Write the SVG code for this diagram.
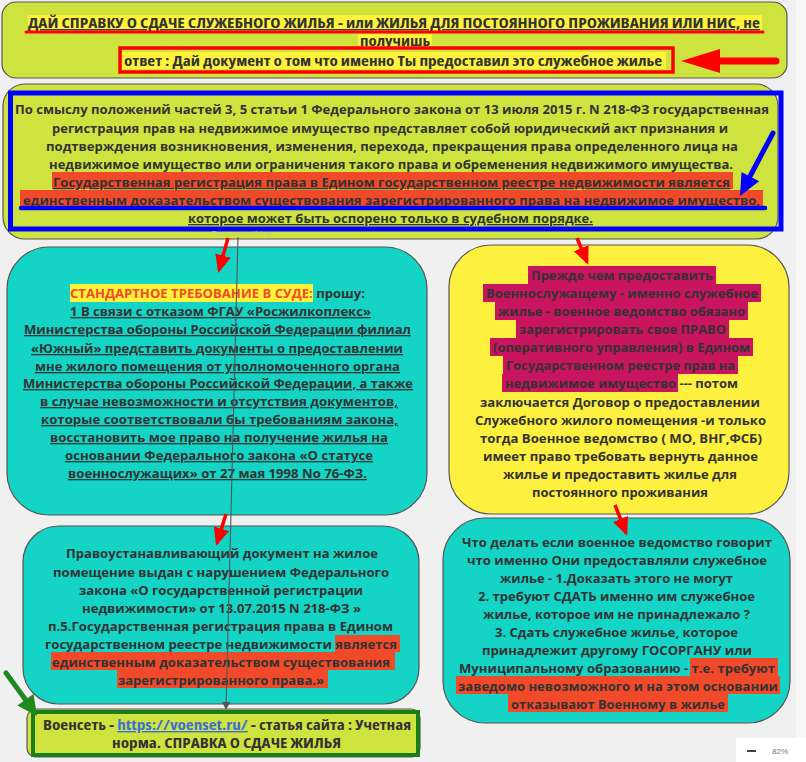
<svg xmlns="http://www.w3.org/2000/svg" width="806" height="762" viewBox="0 0 806 762">
<defs>
<style>
.t{font-family:"Open Sans","DejaVu Sans",sans-serif;font-weight:700;font-size:13.2px;fill:#333;}
.c{font-stretch:condensed;font-size:14px;}
.u{text-decoration:underline;}
.box{stroke:#555;stroke-width:1.2;}
.lime{fill:#cfe33f;}
.teal{fill:#14d4c5;}
.yel{fill:#fdf03e;}
.hy{fill:#fff23a;}
.hr{fill:#f04a2a;}
.hm{fill:#c9145f;}
.ra{stroke:#ff0000;stroke-width:3.5;fill:none;}
</style>
<marker id="rh" markerUnits="userSpaceOnUse" markerWidth="20" markerHeight="16" refX="15" refY="8" orient="auto">
<path d="M0,0 L18,8 L0,16 z" fill="#ff0000"/>
</marker>
<marker id="gh" markerUnits="userSpaceOnUse" markerWidth="8" markerHeight="8" refX="7" refY="4" orient="auto">
<path d="M0,0 L8,4 L0,8 z" fill="#555"/>
</marker>
</defs>
<rect width="806" height="762" fill="#f0f0f0"/>
<rect x="796" y="0" width="10" height="762" fill="#f8f8f8"/>

<g id="node-top">
<rect class="box lime" x="2" y="2" width="785" height="76" rx="14"/>
<rect class="hy" x="28" y="15" width="734" height="17"/>
<rect class="hy" x="358" y="34" width="74" height="16"/>
<rect class="hy" x="122" y="52" width="544" height="17"/>
<text class="t c u" x="28" y="28" textLength="732" lengthAdjust="spacingAndGlyphs">ДАЙ СПРАВКУ О СДАЧЕ СЛУЖЕБНОГО ЖИЛЬЯ - или ЖИЛЬЯ ДЛЯ ПОСТОЯННОГО ПРОЖИВАНИЯ ИЛИ НИС, не</text>
<line x1="26" y1="32" x2="763" y2="32" stroke="#ff0000" stroke-width="3" stroke-linecap="round"/>
<text class="t c u" x="360" y="46" textLength="70" lengthAdjust="spacingAndGlyphs">получишь</text>
<rect x="120" y="48" width="553" height="24" fill="none" stroke="#ff0000" stroke-width="3.5"/>
<text class="t c" x="124" y="66" textLength="538" lengthAdjust="spacingAndGlyphs">ответ : Дай документ о том что именно Ты предоставил это служебное жилье</text>
</g>

<g id="node-law">
<rect class="box lime" x="3" y="84" width="775" height="155" rx="22"/>
<rect class="hr" x="52" y="172" width="681" height="17"/>
<rect class="hr" x="20" y="190" width="743" height="16"/>
<text class="t" x="15" y="114" textLength="754" lengthAdjust="spacingAndGlyphs">По смыслу положений частей 3, 5 статьи 1 Федерального закона от 13 июля 2015 г. N 218-ФЗ государственная</text>
<text class="t" x="52" y="133" textLength="676" lengthAdjust="spacingAndGlyphs">регистрация прав на недвижимое имущество представляет собой юридический акт признания и</text>
<text class="t" x="46" y="151" textLength="692" lengthAdjust="spacingAndGlyphs">подтверждения возникновения, изменения, перехода, прекращения права определенного лица на</text>
<text class="t" x="49" y="169" textLength="684" lengthAdjust="spacingAndGlyphs">недвижимое имущество или ограничения такого права и обременения недвижимого имущества.</text>
<text class="t u" x="53" y="187" textLength="677" lengthAdjust="spacingAndGlyphs">Государственная регистрация права в Едином государственном реестре недвижимости является</text>
<text class="t u" x="23" y="205" textLength="737" lengthAdjust="spacingAndGlyphs">единственным доказательством существования зарегистрированного права на недвижимое имущество,</text>
<text class="t u" x="188" y="223" textLength="405" lengthAdjust="spacingAndGlyphs">которое может быть оспорено только в судебном порядке.</text>
<rect x="10.5" y="93" width="770.5" height="136" fill="none" stroke="#0000ff" stroke-width="5"/>
<line x1="21" y1="208" x2="765" y2="208" stroke="#0000ff" stroke-width="4.5" stroke-linecap="round"/>
<text x="212" y="236" font-family="Open Sans, sans-serif" font-size="8" fill="#c2d170">Type something</text>
</g>

<g id="node-court">
<rect class="box teal" x="7" y="247" width="420" height="268" rx="42"/>
<rect class="hy" x="70" y="284" width="243" height="18"/>
<text class="t" x="70" y="298" textLength="295" lengthAdjust="spacingAndGlyphs"><tspan fill="#f04a2a">СТАНДАРТНОЕ ТРЕБОВАНИЕ В СУДЕ:</tspan> прошу:</text>
<text class="t u" x="70" y="316" textLength="301" lengthAdjust="spacingAndGlyphs">1 В связи с отказом ФГАУ «Росжилкоплекс»</text>
<text class="t u" x="24" y="334" textLength="387" lengthAdjust="spacingAndGlyphs">Министерства обороны Российской Федерации филиал</text>
<text class="t u" x="31" y="353" textLength="372" lengthAdjust="spacingAndGlyphs">«Южный» представить документы о предоставлении</text>
<text class="t u" x="35" y="371" textLength="365" lengthAdjust="spacingAndGlyphs">мне жилого помещения от уполномоченного органа</text>
<text class="t u" x="23" y="388" textLength="390" lengthAdjust="spacingAndGlyphs">Министерства обороны Российской Федерации, а также</text>
<text class="t u" x="40" y="406" textLength="358" lengthAdjust="spacingAndGlyphs">в случае невозможности и отсутствия документов,</text>
<text class="t u" x="41" y="424" textLength="357" lengthAdjust="spacingAndGlyphs">которые соответствовали бы требованиям закона,</text>
<text class="t u" x="50" y="442" textLength="338" lengthAdjust="spacingAndGlyphs">восстановить мое право на получение жилья на</text>
<text class="t u" x="65" y="460" textLength="308" lengthAdjust="spacingAndGlyphs">основании Федерального закона «О статусе</text>
<text class="t u" x="68" y="478" textLength="299" lengthAdjust="spacingAndGlyphs">военнослужащих» от 27 мая 1998 No 76-ФЗ.</text>
</g>

<g id="node-document">
<rect class="box teal" x="23" y="526" width="396" height="178" rx="36"/>
<rect class="hr" x="335" y="635" width="65" height="17"/>
<rect class="hr" x="51" y="652" width="344" height="18"/>
<rect class="hr" x="117" y="670" width="211" height="18"/>
<text class="t" x="66" y="558" textLength="312" lengthAdjust="spacingAndGlyphs">Правоустанавливающий документ на жилое</text>
<text class="t" x="53" y="577" textLength="336" lengthAdjust="spacingAndGlyphs">помещение выдан с нарушением Федерального</text>
<text class="t" x="79" y="595" textLength="284" lengthAdjust="spacingAndGlyphs">закона «О государственной регистрации</text>
<text class="t" x="82" y="613" textLength="279" lengthAdjust="spacingAndGlyphs">недвижимости» от 13.07.2015 N 218-ФЗ »</text>
<text class="t" x="48" y="631" textLength="345" lengthAdjust="spacingAndGlyphs">п.5.Государственная регистрация права в Едином</text>
<text class="t" x="45" y="649" textLength="352" lengthAdjust="spacingAndGlyphs">государственном реестре недвижимости является</text>
<text class="t" x="52" y="667" textLength="338" lengthAdjust="spacingAndGlyphs">единственным доказательством существования</text>
<text class="t" x="118" y="685" textLength="206" lengthAdjust="spacingAndGlyphs">зарегистрированного права.»</text>
</g>

<g id="node-voenset">
<rect class="box lime" x="27" y="709" width="393" height="48" rx="9"/>
<rect x="33" y="712" width="385" height="43" fill="none" stroke="#1a7f1a" stroke-width="4"/>
<text class="t c" x="43" y="730" textLength="368" lengthAdjust="spacingAndGlyphs">Военсеть - <tspan fill="#3b6fd9" text-decoration="underline">https://voenset.ru/</tspan> - статья сайта : Учетная</text>
<text class="t c" x="112" y="748" textLength="229" lengthAdjust="spacingAndGlyphs">норма. СПРАВКА О СДАЧЕ ЖИЛЬЯ</text>
</g>

<g id="node-before">
<rect class="box yel" x="449" y="245" width="340" height="269" rx="42"/>
<rect class="hm" x="528" y="266" width="188" height="18"/>
<rect class="hm" x="483" y="284" width="278" height="18"/>
<rect class="hm" x="495" y="302" width="253" height="18"/>
<rect class="hm" x="516" y="320" width="213" height="18"/>
<rect class="hm" x="490" y="338" width="263" height="18"/>
<rect class="hm" x="503" y="356" width="235" height="18"/>
<rect class="hm" x="502" y="374" width="176" height="18"/>
<text class="t" x="531" y="280" textLength="182" lengthAdjust="spacingAndGlyphs">Прежде чем предоставить</text>
<text class="t" x="486" y="298" textLength="272" lengthAdjust="spacingAndGlyphs">Военнослужащему - именно служебное</text>
<text class="t" x="498" y="316" textLength="247" lengthAdjust="spacingAndGlyphs">жилье - военное ведомство обязано</text>
<text class="t" x="519" y="334" textLength="207" lengthAdjust="spacingAndGlyphs">зарегистрировать свое ПРАВО</text>
<text class="t" x="493" y="352" textLength="257" lengthAdjust="spacingAndGlyphs">(оперативного управления) в Едином</text>
<text class="t" x="506" y="370" textLength="229" lengthAdjust="spacingAndGlyphs">Государственном реестре прав на</text>
<text class="t" x="505" y="388" textLength="233" lengthAdjust="spacingAndGlyphs">недвижимое имущество --- потом</text>
<text class="t" x="480" y="407" textLength="280" lengthAdjust="spacingAndGlyphs">заключается Договор о предоставлении</text>
<text class="t" x="475" y="425" textLength="291" lengthAdjust="spacingAndGlyphs">Служебного жилого помещения -и только</text>
<text class="t" x="480" y="443" textLength="282" lengthAdjust="spacingAndGlyphs">тогда Военное ведомство ( МО, ВНГ,ФСБ)</text>
<text class="t" x="483" y="461" textLength="275" lengthAdjust="spacingAndGlyphs">имеет право требовать вернуть данное</text>
<text class="t" x="503" y="479" textLength="234" lengthAdjust="spacingAndGlyphs">жилье и предоставить жилье для</text>
<text class="t" x="532" y="497" textLength="176" lengthAdjust="spacingAndGlyphs">постоянного проживания</text>
</g>

<g id="node-whattodo">
<rect class="box teal" x="443" y="518" width="347" height="205" rx="42"/>
<rect class="hr" x="690" y="658" width="88" height="18"/>
<rect class="hr" x="456" y="676" width="324" height="18"/>
<rect class="hr" x="508" y="694" width="220" height="18"/>
<text class="t" x="462" y="547" textLength="310" lengthAdjust="spacingAndGlyphs">Что делать если военное ведомство говорит</text>
<text class="t" x="467" y="565" textLength="300" lengthAdjust="spacingAndGlyphs">что именно Они предоставляли служебное</text>
<text class="t" x="500" y="583" textLength="233" lengthAdjust="spacingAndGlyphs">жилье - 1.Доказать этого не могут</text>
<text class="t" x="478" y="601" textLength="277" lengthAdjust="spacingAndGlyphs">2. требуют СДАТЬ именно им служебное</text>
<text class="t" x="483" y="619" textLength="267" lengthAdjust="spacingAndGlyphs">жилье, которое им не принадлежало ?</text>
<text class="t" x="495" y="637" textLength="243" lengthAdjust="spacingAndGlyphs">3. Сдать служебное жилье, которое</text>
<text class="t" x="482" y="655" textLength="270" lengthAdjust="spacingAndGlyphs">принадлежит другому ГОСОРГАНУ или</text>
<text class="t" x="459" y="673" textLength="316" lengthAdjust="spacingAndGlyphs">Муниципальному образованию - т.е. требуют</text>
<text class="t" x="458" y="691" textLength="320" lengthAdjust="spacingAndGlyphs">заведомо невозможного и на этом основании</text>
<text class="t" x="511" y="709" textLength="214" lengthAdjust="spacingAndGlyphs">отказывают Военному в жилье</text>
</g>

<g id="connectors">
<line x1="238" y1="237" x2="226" y2="709" stroke="#555" stroke-width="1.1" marker-end="url(#gh)"/>
<line class="ra" x1="228" y1="238" x2="219" y2="270" marker-end="url(#rh)"/>
<line class="ra" x1="226" y1="514" x2="217" y2="543" marker-end="url(#rh)"/>
<line class="ra" x1="577" y1="238" x2="587" y2="262" marker-end="url(#rh)"/>
<line class="ra" x1="615" y1="505" x2="626" y2="533" marker-end="url(#rh)"/>
<line x1="718" y1="61" x2="776" y2="61" stroke="#ff0000" stroke-width="7" stroke-linecap="round"/>
<polygon points="681,61 720,49 720,73" fill="#ff0000"/>
<line x1="773" y1="133" x2="748" y2="180" stroke="#0000ff" stroke-width="5" stroke-linecap="round"/>
<polygon points="740,196 759.1,181.3 741.5,171.9" fill="#0000ff"/>
<line x1="6" y1="673" x2="28" y2="703" stroke="#1e8a1e" stroke-width="5" stroke-linecap="round"/>
<polygon points="37,716 33.5,694 17.3,705.6" fill="#1e8a1e"/>
</g>

<g id="zoom-widget">
<rect x="736" y="738" width="70" height="24" fill="#ffffff"/>
<line x1="747" y1="751" x2="756" y2="751" stroke="#3a3f5a" stroke-width="2"/>
<text x="772" y="754" font-family="Liberation Sans, sans-serif" font-size="8" fill="#777">82%</text>
</g>
</svg>
